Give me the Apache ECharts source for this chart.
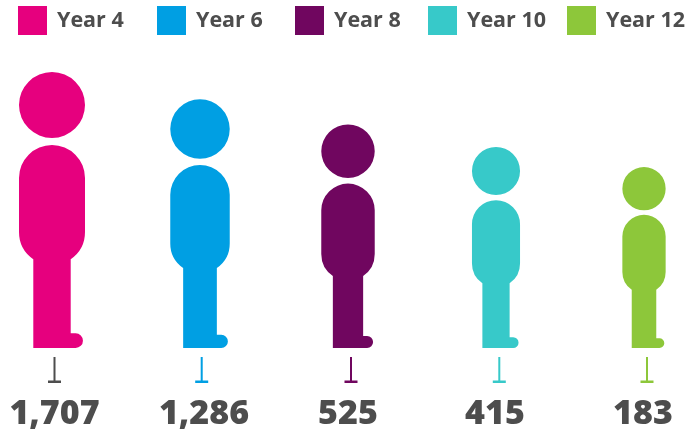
<!DOCTYPE html>
<html>
<head>
<meta charset="utf-8">
<style>
  html, body { margin: 0; padding: 0; background: #fff; }
  #chart { width: 685px; height: 435px; }
</style>
</head>
<body>
<div id="chart"></div>
<script src="https://cdn.jsdelivr.net/npm/echarts@6/dist/echarts.min.js"></script>
<script>
const categories = ['Year 4', 'Year 6', 'Year 8', 'Year 10', 'Year 12'];
const counts = [1707, 1286, 525, 415, 183];
// height of each figure (not proportional to the counts)
const figureHeights = [276, 248.7, 223.5, 201, 181];
const colors = ['#E6007E', '#009FE3', '#70065F', '#37C9C9', '#8DC73A'];
const tickColors = ['#4D4D4D', '#009FE3', '#70065F', '#37C9C9', '#8DC73A'];

const legendLefts = [18, 157, 295, 428, 567];
const tickNudges = [2.5, 1.7, 3, 3.3, 3];
const labelNudges = [2.5, 4, 0, -1, -1];

const textColor = '#4D4D4D';
const font = '"Open Sans", sans-serif';

const personAspect = 66 / 276;
const personPath = 'path://M0 33A33 33 0 1 1 66 33A33 33 0 1 1 0 33Z' +
  'M0 106A33 33 0 0 1 66 106L66 160A33 33 0 0 1 51.7 187.2L51.7 261.3L56.6 261.3' +
  'A7.35 7.35 0 0 1 56.6 276L14.3 276L14.3 187.2A33 33 0 0 1 0 160Z';
const tickPath = 'path://M5.5 0L7.5 0L7.5 23.5L13 23.5L13 26L0 26L0 23.5L5.5 23.5Z';

const chart = echarts.init(document.getElementById('chart'));

const figureSeries = categories.map((name, i) => ({
  name,
  type: 'pictorialBar',
  symbol: personPath,
  symbolPosition: 'start',
  barWidth: '100%',
  barGap: '-100%',
  itemStyle: { color: colors[i] },
  data: categories.map((c, j) => (j === i
    ? { value: figureHeights[i], symbolSize: [figureHeights[i] * personAspect, '100%'] }
    : null))
}));

chart.setOption({
  backgroundColor: '#fff',
  animation: false,
  // one legend per item, the gaps in the reference are not even
  legend: categories.map((name, i) => ({
    data: [name],
    left: legendLefts[i],
    top: 6,
    padding: 0,
    icon: 'rect',
    itemWidth: 29,
    itemHeight: 29,
    itemGap: 0,
    selectedMode: false,
    textStyle: {
      color: textColor,
      fontFamily: font,
      fontWeight: 700,
      fontSize: 21.5,
      padding: [0, 0, 0, 5]
    }
  })),
  grid: { left: -22, width: 740, top: 0, height: 435, outerBoundsMode: 'none' },
  xAxis: { type: 'category', data: categories, show: false },
  yAxis: { type: 'value', min: -87, max: 348, show: false },
  series: [
    ...figureSeries,
    {
      name: 'ticks',
      type: 'scatter',
      symbol: tickPath,
      symbolSize: [13, 26],
      silent: true,
      data: categories.map((c, i) => ({
        value: [c, -22],
        symbolOffset: [tickNudges[i], 0],
        itemStyle: { color: tickColors[i], opacity: 1 }
      }))
    },
    {
      name: 'counts',
      type: 'scatter',
      symbolSize: 0,
      silent: true,
      itemStyle: { opacity: 1 },
      label: {
        show: true,
        position: 'inside',
        color: textColor,
        fontFamily: font,
        fontWeight: 800,
        fontSize: 34,
        formatter: p => counts[p.dataIndex].toLocaleString('en-US')
      },
      data: categories.map((c, i) => ({
        value: [c, -66],
        label: { offset: [labelNudges[i], 0] }
      }))
    }
  ]
});
</script>
</body>
</html>
